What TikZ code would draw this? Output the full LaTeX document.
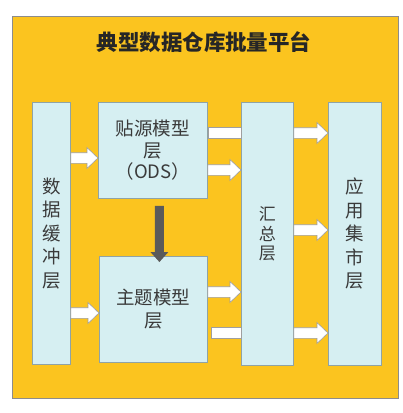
\documentclass[tikz,border=0pt]{standalone}
\usepackage{fontspec}
\setmainfont{Noto Sans CJK SC}
\usetikzlibrary{calc}
\definecolor{bgyellow}{HTML}{FBC41F}
\definecolor{boxfill}{HTML}{D6EFF2}
\definecolor{boxline}{HTML}{8FA3A6}
\definecolor{txt}{HTML}{3A3A3A}
\definecolor{darr}{HTML}{5A5A5A}
\newcommand\blkarrow[2]{\path[blk] let \p1=(#1), \p2=(#2) in
  (\x1,\y1+5.3pt) -- (\x2-11pt,\y1+5.3pt) -- (\x2-11pt,\y1+10.5pt) -- (\x2,\y1)
  -- (\x2-11pt,\y1-10.5pt) -- (\x2-11pt,\y1-5.3pt) -- (\x1,\y1-5.3pt) -- cycle;}
\newcommand\blkbar[2]{\path[blk] let \p1=(#1), \p2=(#2) in
  (\x1,\y1+5.3pt) rectangle (\x2,\y1-5.3pt);}
\begin{document}
\begin{tikzpicture}[x=1pt,y=-1pt,
 box/.style={draw=boxline, fill=boxfill, line width=0.8pt, anchor=north west, inner sep=0pt, align=center, text=txt},
 hfont/.style={font=\fontsize{18.5}{21.5}\selectfont},
 vfont/.style={font=\fontsize{18.5}{23.5}\selectfont},
 blk/.style={draw=gray!75, fill=white, line width=0.6pt, line join=miter},
 darrow/.style={fill=darr},
]
\useasboundingbox (0,0) rectangle (403,413);
\fill[white] (0,0) rectangle (403,413);
\node[draw=black!45, fill=bgyellow, anchor=north west, minimum width=386pt, minimum height=382pt, inner sep=0pt, line width=0.6pt] (bg) at (12,16) {};
\node[font=\bfseries\fontsize{21.5}{24}\selectfont, text=black!85] (title) at (204,42) {典型数据仓库批量平台};

\node[box, vfont, minimum width=38pt, minimum height=262pt] (buf) at (32,102) {数\\据\\缓\\冲\\层};
\node[box, hfont, minimum width=109pt, minimum height=96pt] (ods) at (98,102) {贴源模型\\层\\（ODS）};
\node[box, hfont, font=\fontsize{18.5}{23}\selectfont, minimum width=108pt, minimum height=106pt] (topic) at (99,256) {主题模型\\层};
\node[box, font=\fontsize{17}{19.5}\selectfont, minimum width=52pt, minimum height=263pt] (sum) at (241,102) {汇\\总\\层};
\node[box, vfont, minimum width=53pt, minimum height=263pt] (app) at (328,102) {应\\用\\集\\市\\层};

% buffer -> ods / topic
\blkarrow{buf.east |- 0,158}{ods.west |- 0,158}
\blkarrow{buf.east |- 0,313}{topic.west |- 0,313}
% ods -> summary
\blkbar{ods.east |- 0,133}{sum.west |- 0,133}
\blkarrow{ods.east |- 0,170}{sum.west |- 0,170}
% topic -> summary
\blkarrow{topic.east |- 0,292}{sum.west |- 0,292}
\blkbar{$(topic.east |- 0,333)+(3,0)$}{sum.west |- 0,333}
% summary -> app
\blkarrow{sum.east |- 0,133}{app.west |- 0,133}
\blkarrow{sum.east |- 0,230}{app.west |- 0,230}
\blkarrow{sum.east |- 0,333}{app.west |- 0,333}
% ods -> topic
\coordinate (dtop) at ($(ods.south)+(6.5,7)$);
\coordinate (dbot) at ($(topic.north)+(6,6)$);
\path[darrow] let \p1=(dtop), \p2=(dbot) in
  (\x1-4.5pt,\y1) -- (\x1-4.5pt,\y2+10pt) -- (\x1-9pt,\y2+10pt) -- (\x1,\y2)
  -- (\x1+9pt,\y2+10pt) -- (\x1+4.5pt,\y2+10pt) -- (\x1+4.5pt,\y1) -- cycle;
\end{tikzpicture}
\end{document}
